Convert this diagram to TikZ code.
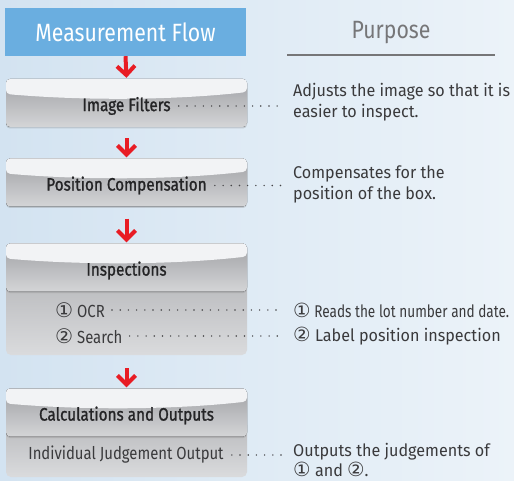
\documentclass[tikz,border=0pt]{standalone}
\usepackage{fontspec}
\setmainfont{Fira Sans}
\newfontfamily\dinfont[FakeStretch=0.85]{Fira Sans}
\newfontfamily\dinmedium[FakeStretch=0.85, FakeBold=1.2]{Fira Sans}
\newfontfamily\txtfont[FakeStretch=0.95]{Fira Sans}
\newfontfamily\narrowfont[FakeStretch=0.8]{Fira Sans}
\newfontfamily\symfont[Scale=1.15]{DejaVu Sans}
\newcommand{\circnum}[1]{{\symfont #1}}
\usetikzlibrary{%
  arrows.meta,%
  calc,%
  positioning,%
  shadows,%
}

\definecolor{flowblue}{RGB}{106,174,224}
\definecolor{flowred}{RGB}{232,28,36}
\definecolor{boxtop}{RGB}{242,243,245}
\definecolor{boxdark}{RGB}{160,161,165}
\definecolor{boxlight}{RGB}{212,213,215}
\definecolor{bodydark}{RGB}{184,185,188}
\definecolor{bodylight}{RGB}{218,219,221}
\definecolor{textdark}{RGB}{36,36,38}
\definecolor{textgray}{RGB}{118,118,120}
\definecolor{bgleft}{RGB}{211,227,241}
\definecolor{bgright}{RGB}{236,243,249}

\tikzset{
  titlebox/.style={rectangle, fill=flowblue, minimum width=241pt,
    minimum height=48pt, inner sep=0pt, text=white,
    font=\dinfont\fontsize{25}{27}\selectfont},
  purposehead/.style={inner sep=0pt, text=textgray,
    font=\dinfont\fontsize{25}{27}\selectfont},
  stepbox/.style={rectangle, rounded corners=4pt, minimum width=241pt,
    minimum height=48pt, inner sep=0pt,
    drop shadow={shadow xshift=0pt, shadow yshift=-1.5pt, opacity=.3},
    path picture={
      \fill [top color=boxdark, bottom color=boxlight]
        (path picture bounding box.north west) rectangle
        (path picture bounding box.south east);
      \fill [boxtop] (path picture bounding box.north west)
        -- ([yshift=-15pt]path picture bounding box.north west)
        .. controls +(80pt,-7pt) and +(-70pt,-8pt)
        .. ([yshift=-13pt]path picture bounding box.north east)
        -- (path picture bounding box.north east) -- cycle;
    }},
  stepbody/.style={rectangle, rounded corners=5pt, minimum width=241pt,
    inner sep=0pt, top color=bodydark, bottom color=bodylight},
  steplabel/.style={inner sep=0pt, text=textdark,
    font=\dinmedium\fontsize{18}{20}\selectfont},
  itemlabel/.style={inner sep=0pt, text=textdark!90,
    font=\dinfont\fontsize{17.5}{20}\selectfont},
  purposetext/.style={inner sep=0pt, anchor=west, align=left,
    text=textdark!90, font=\txtfont\fontsize{17}{21}\selectfont},
  flowarrow/.style={draw=flowred, line width=4pt,
    -{Straight Barb[length=9pt, width=18pt]}, shorten >=1pt},
  leader/.style={draw=textdark!85, line width=1.6pt, line cap=round,
    dash pattern=on 0pt off 8.2pt},
}

\begin{document}
\begin{tikzpicture}[x=1pt, y=-1pt]

  % background
  \fill [left color=bgleft, right color=bgright] (0, 0) rectangle (514, 481);
  \useasboundingbox (0, 0) rectangle (514, 481);

  % headings
  \node [titlebox] (title) at (125.5, 32) {Measurement Flow};
  \node [purposehead] (purpose) at (391, 33) {Purpose};
  \draw [textgray, line width=1.6pt] (287, 55) -- (495, 55);

  % bodies behind the boxes
  \node [stepbody, minimum height=80pt] (inspbody) at (126.5, 315) {};
  \node [stepbody, minimum height=57pt] (calcbody) at (126.5, 448.5) {};

  % step boxes
  \node [stepbox] (filters) at (126.5, 103) {};
  \node [steplabel] (filterst) at ([yshift=-3pt]filters.center) {Image Filters};

  \node [stepbox] (poscomp) at (126.5, 182.5) {};
  \node [steplabel] (poscompt) at ([yshift=-3pt]poscomp.center)
    {Position Compensation};

  \node [stepbox] (insp) at (126.5, 267.5) {};
  \node [steplabel] (inspt) at ([yshift=-3pt]insp.center) {Inspections};

  \node [stepbox] (calc) at (126.5, 412.5) {};
  \node [steplabel] (calct) at ([yshift=-3pt]calc.center)
    {Calculations and Outputs};

  % items in the bodies
  \node [itemlabel, anchor=west] (ocr) at (55, 310) {\circnum{①} OCR};
  \node [itemlabel, anchor=west] (search) at (55, 336) {\circnum{②} Search};
  \node [itemlabel] (judge) at (126, 455) {Individual Judgement Output};

  % purposes
  \node [purposetext] (pfilters) at (293, 102.5)
    {Adjusts the image so that it is \\ easier to inspect.};
  \node [purposetext] (pposcomp) at (293, 184.5)
    {Compensates for the \\ position of the box.};
  \node [purposetext, font=\narrowfont\fontsize{17}{21}\selectfont] (pocr)
    at (293, 310) {\circnum{①} Reads the lot number and date.};
  \node [purposetext] (psearch) at (293, 336)
    {\circnum{②} Label position inspection};
  \node [purposetext, font=\txtfont\fontsize{17}{20}\selectfont] (pjudge)
    at (293, 460) {Outputs the judgements of \\ \circnum{①} and \circnum{②}.};

  % flow arrows
  \draw [flowarrow, shorten <=0pt] (title.south) -- (filters.north);
  \draw [flowarrow, shorten <=11pt] (filters.south) -- (poscomp.north);
  \draw [flowarrow, shorten <=12pt] (poscomp.south) -- (insp.north);
  \draw [flowarrow, shorten <=13pt] (inspbody.south) -- (calc.north);

  % dotted leaders
  \draw [leader] ([xshift=8pt]filterst.east)
    -- ($(pfilters.west |- filterst.east) + (-9pt, 0)$);
  \draw [leader] ([xshift=8pt]poscompt.east)
    -- ($(pposcomp.west |- poscompt.east) + (-9pt, 0)$);
  \draw [leader] ([xshift=7pt]ocr.east) -- ([xshift=-9pt]pocr.west);
  \draw [leader] ([xshift=7pt]search.east) -- ([xshift=-9pt]psearch.west);
  \draw [leader] ([xshift=8pt]judge.east)
    -- ($(pjudge.west |- judge.east) + (-9pt, 0)$);

\end{tikzpicture}
\end{document}
